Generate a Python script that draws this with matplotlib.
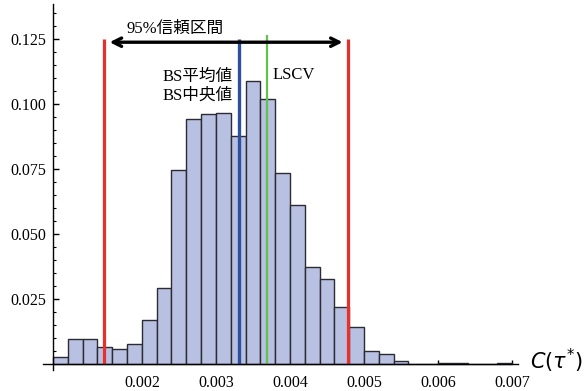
import matplotlib
matplotlib.use("Agg")
import matplotlib.pyplot as plt
from matplotlib.ticker import MultipleLocator, FixedLocator

plt.rcParams['font.family'] = ['Liberation Serif', 'Noto Sans CJK JP', 'DejaVu Sans']

# Histogram data (bin left edges, bin width 0.0002)
bin_left = [0.0008, 0.0010, 0.0012, 0.0014, 0.0016, 0.0018, 0.0020, 0.0022,
            0.0024, 0.0026, 0.0028, 0.0030, 0.0032, 0.0034, 0.0036, 0.0038,
            0.0040, 0.0042, 0.0044, 0.0046, 0.0048, 0.0050, 0.0052, 0.0054,
            0.0056, 0.0058, 0.0060, 0.0062, 0.0064, 0.0066, 0.0068]
heights = [0.0026, 0.0096, 0.0096, 0.0067, 0.0056, 0.0077, 0.0169, 0.0293,
           0.0746, 0.0941, 0.0960, 0.0964, 0.0877, 0.1090, 0.1018, 0.0735,
           0.0612, 0.0374, 0.0326, 0.0220, 0.0143, 0.0050, 0.0037, 0.0012,
           0.0, 0.0002, 0.0005, 0.0005, 0.0, 0.0002, 0.0005]
bin_width = 0.0002

ci_low, ci_high = 0.001486, 0.004784
bs_mean = 0.003311
lscv = 0.003694

xticks = [0.002, 0.003, 0.004, 0.005, 0.006, 0.007]
xtick_labels = ['0.002', '0.003', '0.004', '0.005', '0.006', '0.007']
yticks = [0.025, 0.050, 0.075, 0.100, 0.125]
ytick_labels = ['0.025', '0.050', '0.075', '0.100', '0.125']

fig = plt.figure(figsize=(5.86, 3.91), dpi=100)
ax = fig.add_axes([43/586, 21/391, 475/586, 366/391])

ax.bar(bin_left, heights, width=bin_width, align='edge',
       color='#b9c1e2', edgecolor='#2b2b33', linewidth=1.0, zorder=2)

ax.vlines([ci_low, ci_high], 0, 0.125, color='#e8302a', linewidth=2.3, zorder=4)
ax.vlines([bs_mean], 0, 0.125, color='#2c4f9e', linewidth=2.4, zorder=4)
ax.vlines([lscv], 0, 0.1265, color='#62c24e', linewidth=1.6, zorder=4)

ax.annotate('', xy=(0.001564, 0.1238), xytext=(0.004712, 0.1238),
            arrowprops=dict(arrowstyle='<->,head_length=0.6,head_width=0.3',
                            color='black', linewidth=2.4, shrinkA=0, shrinkB=0),
            zorder=5)

ax.text(0.00245, 0.1288, '95%信頼区間', fontsize=12, ha='center', va='center', zorder=6)
ax.text(0.003226, 0.1104, 'BS平均値', fontsize=12, ha='right', va='center', zorder=6)
ax.text(0.003226, 0.1033, 'BS中央値', fontsize=12, ha='right', va='center', zorder=6)
ax.text(0.003766, 0.1112, 'LSCV', fontsize=12, ha='left', va='center', zorder=6)

ax.set_xlim(0.000665, 0.00708)
ax.set_ylim(-0.0023, 0.1385)

for s in ['top', 'right']:
    ax.spines[s].set_visible(False)
ax.spines['left'].set_position(('data', 0.0008))
ax.spines['bottom'].set_position(('data', 0.0))
ax.spines['left'].set_linewidth(1.0)
ax.spines['bottom'].set_linewidth(1.0)
ax.spines['left'].set_zorder(5)
ax.spines['bottom'].set_zorder(5)

ax.xaxis.set_major_locator(FixedLocator(xticks))
ax.set_xticklabels(xtick_labels)
ax.yaxis.set_major_locator(FixedLocator(yticks))
ax.set_yticklabels(ytick_labels)
ax.yaxis.set_minor_locator(MultipleLocator(0.005))

ax.tick_params(axis='y', which='major', direction='in', length=4, width=1, pad=5, labelsize=11.5)
ax.tick_params(axis='y', which='minor', direction='in', length=2.5, width=0.8)
ax.tick_params(axis='x', which='major', direction='in', length=3, width=1, pad=8, labelsize=11.5)

fig.text(530/586, 1 - 361/391, r'$C(\tau^{*})$', fontsize=15, ha='left', va='center')

fig.savefig('out.png', dpi=100)
